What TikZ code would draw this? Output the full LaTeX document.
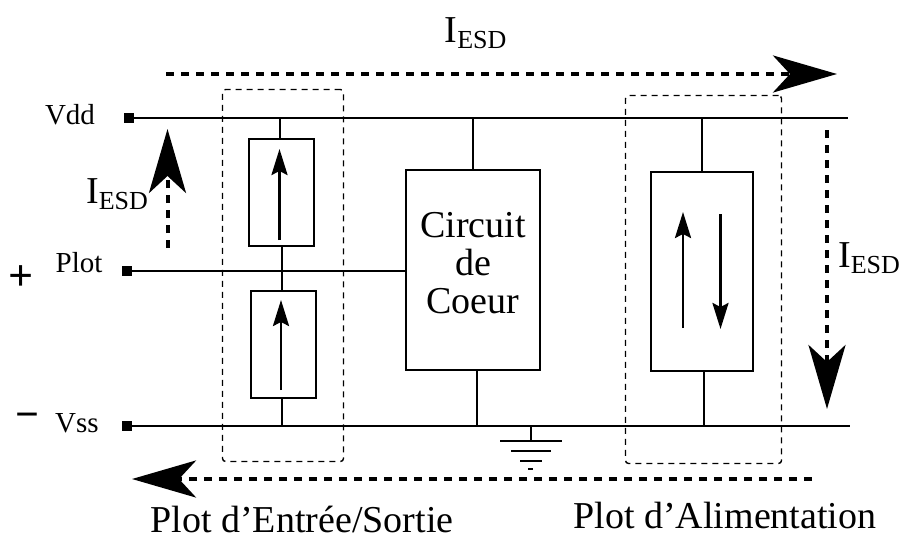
\documentclass[tikz,border=0pt]{standalone}
\usepackage{fontspec}
\setmainfont{Liberation Serif}
\usetikzlibrary{arrows.meta}
\newcommand{\taille}[1]{\fontsize{#1}{#1}\selectfont}
\newcommand{\iesd}{\taille{38}I\raisebox{-6pt}{\taille{26}ESD}}
\begin{document}
\begin{tikzpicture}[x=1pt,y=-1pt]
\tikzstyle{fil}=[line width=1.5pt]
\tikzstyle{courant}=[-{Stealth[length=26pt,width=16pt,inset=4pt]},line width=2.8pt]
\tikzstyle{flux}=[-{Stealth[length=64pt,width=37pt,inset=17pt]},line width=4pt,dash pattern=on 8pt off 7pt]
\tikzset{plot/.style={draw=black,fill=black,inner sep=0pt,minimum size=9pt},
boite/.style={draw,line width=1.5pt,inner sep=0pt,minimum width=#1},
boite/.default={65pt},
zone/.style={draw,line width=1.4pt,dash pattern=on 6pt off 5pt,rounded corners=3pt,inner sep=0pt},
texte/.style={inner sep=0pt,font=\taille{38}},
petit/.style={inner sep=0pt,font=\taille{29}}}
\useasboundingbox (0,0) rectangle (902,535);
\node [zone,minimum width=121pt,minimum height=372pt] (zoneES) at (283,275.5) {};
\node [zone,minimum width=156pt,minimum height=368pt] (zoneAl) at (703.5,279.5) {};
\node [plot] (vdd) at (129,118) {};
\node [plot] (plot) at (127,271) {};
\node [plot] (vss) at (127,426) {};
\coordinate (vddfin) at (848,118);
\coordinate (vssfin) at (850,426);
\node [boite,minimum height=107pt] (diodeH) at (281.5,192.5) {};
\node [boite,minimum height=107pt] (diodeB) at (283.5,344.5) {};
\node [boite=134pt,minimum height=200pt] (coeur) at (473,270) {};
\node [boite=102pt,minimum height=199pt] (diodeAl) at (702,271.5) {};
\draw [fil] (vdd) -- (vddfin);
\draw [fil] (plot) -- (plot -| coeur.west);
\draw [fil] (vss) -- (vssfin);
\draw [fil] ([xshift=-1.5pt]diodeH.north) -- ([xshift=-1.5pt]diodeH.north |- vdd);
\draw [fil] ([xshift=.5pt]diodeH.south) -- ([xshift=-1.5pt]diodeB.north);
\draw [fil] ([xshift=-1.5pt]diodeB.south) -- ([xshift=-1.5pt]diodeB.south |- vss);
\draw [fil] (coeur.north) -- (coeur.north |- vdd);
\draw [fil] ([xshift=4pt]coeur.south) -- ([xshift=4pt]coeur.south |- vss);
\draw [fil] (diodeAl.north) -- (diodeAl.north |- vdd);
\draw [fil] ([xshift=2pt]diodeAl.south) -- ([xshift=2pt]diodeAl.south |- vss);
\coordinate (hB) at (279.5,240);
\coordinate (hH) at (279.5,149);
\coordinate (bB) at (281,390);
\coordinate (bH) at (281,300);
\coordinate (alB) at (683,328);
\coordinate (alH) at (683,212);
\coordinate (al2H) at (720.5,214);
\coordinate (al2B) at (720.5,329);
\draw [courant] (hB) -- (hH);
\draw [courant] (bB) -- (bH);
\draw [courant] (alB) -- (alH);
\draw [courant] (al2H) -- (al2B);
\coordinate (fhD) at (166,74);
\coordinate (fhA) at (837,74);
\coordinate (fgD) at (167.5,248);
\coordinate (fgA) at (167.5,129);
\coordinate (fdD) at (827,130);
\coordinate (fdA) at (827,409);
\coordinate (fbD) at (812,479);
\coordinate (fbA) at (132,479);
\draw [flux] (fhD) -- (fhA);
\draw [flux] (fgD) -- (fgA);
\draw [flux] (fdD) -- (fdA);
\draw [flux] (fbD) -- (fbA);
\coordinate (terre) at (531,441);
\draw [fil] (terre) -- (terre |- vss);
\coordinate (t1g) at (500,441);
\coordinate (t1d) at (562,441);
\coordinate (t2g) at (511,451);
\coordinate (t2d) at (551,451);
\coordinate (t3g) at (520,461);
\coordinate (t3d) at (542,461);
\coordinate (t4g) at (528,469);
\coordinate (t4d) at (533,469);
\draw [line width=2.8pt] (t1g) -- (t1d);
\draw [line width=2.2pt] (t2g) -- (t2d);
\draw [line width=2.2pt] (t3g) -- (t3d);
\draw [line width=1.6pt] (t4g) -- (t4d);
\node [petit] (lvdd) at (70,115) {Vdd};
\node [petit] (lplot) at (79,263) {Plot};
\node [petit] (lvss) at (77,423.5) {Vss};
\node [inner sep=0pt,font=\taille{44}\bfseries] (lplus) at (21.5,278) {+};
\node [inner sep=0pt,font=\taille{42}\bfseries] (lmoins) at (27,421) {\textminus};
\node [texte] (ihaut) at (475.5,33) {\iesd};
\node [texte] (igauche) at (117,194) {\iesd};
\node [texte] (idroite) at (869,258) {\iesd};
\node [texte,align=center] (lcoeur) at (473,263) {Circuit\\de\\Coeur};
\node [texte] (les) at (302,519.5) {Plot d'Entrée/Sortie};
\node [texte] (lal) at (725,515) {Plot d'Alimentation};
\end{tikzpicture}
\end{document}
